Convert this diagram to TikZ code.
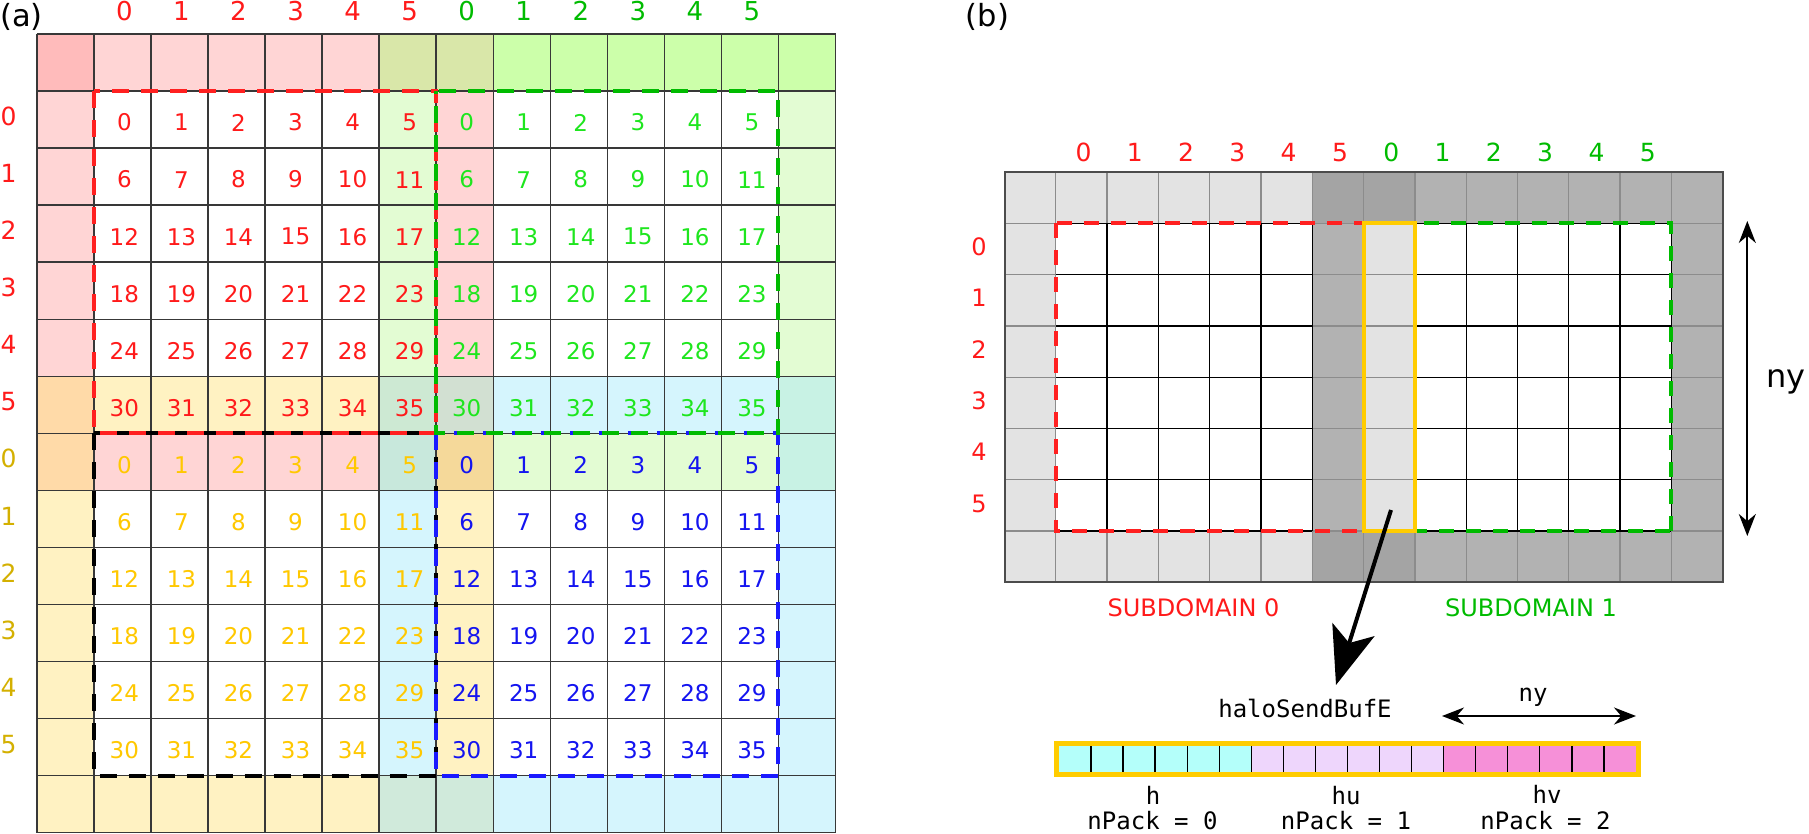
\documentclass[tikz,border=0pt]{standalone}
\usepackage{fontspec}
\setmainfont{DejaVu Sans}
\newfontfamily\monof{DejaVu Sans Mono}
\usetikzlibrary{arrows.meta}
\definecolor{pinkA}{HTML}{FFD5D5}
\definecolor{cornerA}{HTML}{FFBBBB}
\definecolor{oliveA}{HTML}{D9E7A9}
\definecolor{greenDk}{HTML}{CCFFAA}
\definecolor{greenL}{HTML}{E3FCD3}
\definecolor{yellowA}{HTML}{FFF2C2}
\definecolor{orangeA}{HTML}{FFDAA8}
\definecolor{mixA}{HTML}{CDE9D3}
\definecolor{mixB}{HTML}{D2E0D2}
\definecolor{mixC}{HTML}{C8E8DC}
\definecolor{mixD}{HTML}{F5D99A}
\definecolor{cyanA}{HTML}{D5F5FD}
\definecolor{tealA}{HTML}{C8F2E4}
\definecolor{tealB}{HTML}{D0EADB}
\definecolor{txtRed}{HTML}{FF1A1A}
\definecolor{txtGreen}{HTML}{1EE61E}
\definecolor{labGreen}{HTML}{00BB00}
\definecolor{txtYellow}{HTML}{FFC800}
\definecolor{labYellow}{HTML}{D4B000}
\definecolor{txtBlue}{HTML}{1414F0}
\definecolor{dashRed}{HTML}{FF2020}
\definecolor{dashGreen}{HTML}{00BB00}
\definecolor{dashBlue}{HTML}{1A1AFF}
\definecolor{grayL}{HTML}{E3E3E3}
\definecolor{grayM}{HTML}{B2B2B2}
\definecolor{grayD}{HTML}{A4A4A4}
\definecolor{bufY}{HTML}{FFCC00}
\definecolor{bufC}{HTML}{B4FFFA}
\definecolor{bufP}{HTML}{EED6FC}
\definecolor{bufM}{HTML}{F690D8}
\begin{document}
\begin{tikzpicture}[x=1pt,y=-1pt,
  numA/.style={font=\fontsize{23}{27}\selectfont, inner sep=0pt},
  labA/.style={font=\fontsize{26}{30}\selectfont, inner sep=0pt, anchor=base},
  labRow/.style={font=\fontsize{25}{30}\selectfont, inner sep=0pt},
  labB/.style={font=\fontsize{25}{30}\selectfont, inner sep=0pt, anchor=base},
  panel/.style={font=\fontsize{30.5}{34}\selectfont, inner sep=0pt, anchor=base},
  gridA/.style={draw=black!78, line width=1.4pt},
  gridBg/.style={draw=black!45, line width=1.3pt},
  gridBk/.style={draw=black, line width=1.3pt},
  dashA/.style={line width=4pt, dash pattern=on 17pt off 12pt},
  dashB/.style={line width=4pt, dash pattern=on 15pt off 12pt},
  monoT/.style={font=\monof\fontsize{24}{28}\selectfont, inner sep=0pt, anchor=base},
  subT/.style={font=\fontsize{24}{28}\selectfont, inner sep=0pt, anchor=base},
  bigarrow/.style={line width=4pt, -{Stealth[length=58pt, width=44pt, inset=14pt]}},
  dimarrow/.style={line width=2pt, {Stealth[length=22pt, width=17pt]}-{Stealth[length=22pt, width=17pt]}}
]
\useasboundingbox (0,0) rectangle (1809,834);
\fill[white] (0,0) rectangle (1809,834);
% ================= panel (a) =================
\def\ax{36.8}\def\ay{34}\def\as{57.05}
\newcommand\cellfillA[3]{\fill[#3] ({\ax+(#1)*\as},{\ay+(#2)*\as}) rectangle ++(\as,\as);}
\cellfillA{0}{0}{cornerA}
\foreach \c in {1,...,5} {\cellfillA{\c}{0}{pinkA}}
\cellfillA{6}{0}{oliveA}\cellfillA{7}{0}{oliveA}
\foreach \c in {8,...,13} {\cellfillA{\c}{0}{greenDk}}
\foreach \r in {1,...,5} {\cellfillA{0}{\r}{pinkA}\cellfillA{6}{\r}{greenL}\cellfillA{7}{\r}{pinkA}\cellfillA{13}{\r}{greenL}}
\cellfillA{0}{6}{orangeA}\cellfillA{0}{7}{orangeA}
\foreach \c in {1,...,5} {\cellfillA{\c}{6}{yellowA}\cellfillA{\c}{7}{pinkA}\cellfillA{\c}{13}{yellowA}}
\foreach \c in {8,...,12} {\cellfillA{\c}{6}{cyanA}\cellfillA{\c}{7}{greenL}\cellfillA{\c}{13}{cyanA}}
\cellfillA{6}{6}{mixA}\cellfillA{7}{6}{mixB}\cellfillA{6}{7}{mixC}\cellfillA{7}{7}{mixD}
\cellfillA{13}{6}{tealA}\cellfillA{13}{7}{tealA}
\foreach \r in {8,...,12} {\cellfillA{0}{\r}{yellowA}\cellfillA{6}{\r}{cyanA}\cellfillA{7}{\r}{yellowA}\cellfillA{13}{\r}{cyanA}}
\cellfillA{0}{13}{yellowA}\cellfillA{6}{13}{tealB}\cellfillA{7}{13}{tealB}\cellfillA{13}{13}{cyanA}
\foreach \k in {0,...,14} {
  \draw[gridA] ({\ax+\k*\as},\ay) -- ({\ax+\k*\as},{\ay+14*\as});
  \draw[gridA] (\ax,{\ay+\k*\as}) -- ({\ax+14*\as},{\ay+\k*\as});
}
\foreach \i in {0,...,5} {
  \foreach \j in {0,...,5} {
    \pgfmathtruncatemacro\n{\j*6+\i}
    \node[numA,text=txtRed] (ra\n) at ({\ax+(\i+1.5)*\as+2},{\ay+(\j+1.5)*\as+3}) {\n};
    \node[numA,text=txtGreen] (ga\n) at ({\ax+(\i+7.5)*\as+2},{\ay+(\j+1.5)*\as+3}) {\n};
    \node[numA,text=txtYellow] (ya\n) at ({\ax+(\i+1.5)*\as+2},{\ay+(\j+7.5)*\as+3}) {\n};
    \node[numA,text=txtBlue] (ba\n) at ({\ax+(\i+7.5)*\as+2},{\ay+(\j+7.5)*\as+3}) {\n};
  }
}
\draw[dashA,black] ({\ax+\as},{\ay+7*\as}) rectangle ({\ax+7*\as},{\ay+13*\as});
\draw[dashA,dashBlue] ({\ax+7*\as},{\ay+7*\as}) rectangle ({\ax+13*\as},{\ay+13*\as});
\draw[dashA,dashRed] ({\ax+\as},{\ay+\as}) rectangle ({\ax+7*\as},{\ay+7*\as});
\draw[dashA,dashGreen,dash phase=14pt] ({\ax+7*\as},{\ay+\as}) rectangle ({\ax+13*\as},{\ay+7*\as});
\foreach \i in {0,...,5} {
  \node[labA,text=txtRed] (cla\i) at ({\ax+(\i+1.5)*\as+2},20.5) {\i};
  \node[labA,text=labGreen] (clb\i) at ({\ax+(\i+7.5)*\as+2},20.5) {\i};
  \node[labRow,text=txtRed] (rla\i) at (8.5,{\ay+(\i+1.5)*\as-3}) {\i};
  \node[labRow,text=labYellow] (rlb\i) at (8.5,{\ay+(\i+7.5)*\as-3}) {\i};
}
\node[panel,anchor=base west] (pa) at (0,26.7) {(a)};
% ================= panel (b) =================
\def\bx{1004.5}\def\by{172}\def\bs{51.3}
\newcommand\cellfillB[3]{\fill[#3] ({\bx+(#1)*\bs},{\by+(#2)*\bs}) rectangle ++(\bs,\bs);}
\foreach \r in {0,7} {
  \foreach \c in {0,...,5} {\cellfillB{\c}{\r}{grayL}}
  \cellfillB{6}{\r}{grayD}\cellfillB{7}{\r}{grayD}
  \foreach \c in {8,...,13} {\cellfillB{\c}{\r}{grayM}}
}
\foreach \r in {1,...,6} {\cellfillB{0}{\r}{grayL}\cellfillB{6}{\r}{grayM}\cellfillB{7}{\r}{grayL}\cellfillB{13}{\r}{grayM}}
\foreach \k in {0,...,14} {\draw[gridBg] ({\bx+\k*\bs},\by) -- ({\bx+\k*\bs},{\by+8*\bs});}
\foreach \k in {0,...,8} {\draw[gridBg] (\bx,{\by+\k*\bs}) -- ({\bx+14*\bs},{\by+\k*\bs});}
\foreach \k in {1,...,7} {
  \draw[gridBk] ({\bx+\bs},{\by+\k*\bs}) -- ({\bx+6*\bs},{\by+\k*\bs});
  \draw[gridBk] ({\bx+8*\bs},{\by+\k*\bs}) -- ({\bx+13*\bs},{\by+\k*\bs});
}
\foreach \k in {2,...,6,9,10,11,12,13} {\draw[gridBk] ({\bx+\k*\bs},{\by+\bs}) -- ({\bx+\k*\bs},{\by+7*\bs});}
\draw[draw=black!70, line width=2pt] (\bx,\by) rectangle ({\bx+14*\bs},{\by+8*\bs});
\draw[dashB,dashRed] ({\bx+\bs},{\by+\bs}) rectangle ({\bx+7*\bs},{\by+7*\bs});
\draw[dashB,dashGreen] ({\bx+13*\bs},{\by+7*\bs}) rectangle ({\bx+7*\bs},{\by+\bs});
\draw[bufY, line width=4pt] ({\bx+7*\bs},{\by+\bs}) rectangle ({\bx+8*\bs},{\by+7*\bs});
\foreach \i in {0,...,5} {
  \node[labB,text=txtRed] (clc\i) at ({\bx+(\i+1.5)*\bs+2},161.5) {\i};
  \node[labB,text=labGreen] (cld\i) at ({\bx+(\i+7.5)*\bs+2},161.5) {\i};
  \node[labRow,font=\fontsize{24}{28}\selectfont,text=txtRed] (rlc\i) at (979,{\by+(\i+1.5)*\bs-2}) {\i};
}
\node[panel] (pb) at (987.5,26.7) {(b)};
\node[subT,text=txtRed] (sd0) at (1193.5,616.5) {SUBDOMAIN 0};
\node[subT,text=labGreen] (sd1) at (1531,616.5) {SUBDOMAIN 1};
% vertical ny arrow
\coordinate (nyT) at (1747.3,221);
\coordinate (nyB) at (1747.3,536);
\draw[dimarrow] (nyT) -- (nyB);
\node[font=\fontsize{32}{36}\selectfont, inner sep=0pt, anchor=west] (nyR) at (1766,382) {ny};
% buffer
\fill[bufC] (1059,745.7) rectangle (1250.7,772.3);
\fill[bufP] (1250.7,745.7) rectangle (1444.3,772.3);
\fill[bufM] (1444.3,745.7) rectangle (1636,772.3);
\foreach \k in {1,...,17} {\draw[black, line width=1.4pt] ({1059+\k*32.05},745.7) -- ({1059+\k*32.05},772.3);}
\draw[bufY, line width=5pt] (1056.5,743.2) rectangle (1638.5,774.8);
\node[monoT] (hsb) at (1305,717) {haloSendBufE};
\node[monoT] (lh) at (1153,804) {h};
\node[monoT] (lhu) at (1346,804) {hu};
\node[monoT] (lhv) at (1547,803) {hv};
\node[monoT] (np0) at (1152.5,829) {nPack = 0};
\node[monoT] (np1) at (1346,829) {nPack = 1};
\node[monoT] (np2) at (1545.5,829) {nPack = 2};
% ny arrow bottom
\coordinate (nyL) at (1442,716);
\coordinate (nyRr) at (1636,716);
\draw[dimarrow] (nyL) -- (nyRr);
\node[monoT] (nyb) at (1533,701.7) {ny};
% big arrow
\coordinate (aS) at (1391,510);
\coordinate (aE) at (1336,685);
\draw[bigarrow] (aS) -- (aE);
\end{tikzpicture}
\end{document}
